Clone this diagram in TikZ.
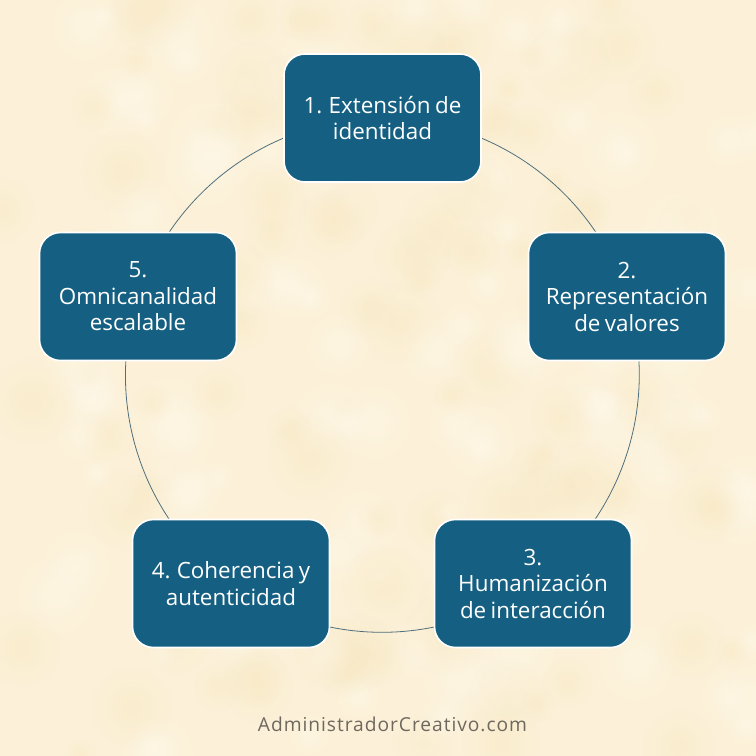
\documentclass[tikz,border=0pt]{standalone}
\usepackage{fontspec}
\setmainfont[WordSpace=0.75]{Open Sans}
\usetikzlibrary{backgrounds,fadings}
\definecolor{paper}{HTML}{FCF1D8}
\definecolor{blotlight}{HTML}{FFF9EA}
\definecolor{blotdark}{HTML}{F8E8C3}
\definecolor{boxblue}{HTML}{156082}
\definecolor{ringline}{HTML}{4F6F7C}
\definecolor{foot}{HTML}{6E685E}
\tikzfading[name=softblot,inner color=transparent!0,outer color=transparent!100]
\tikzset{
  stagebox/.style={draw=white,line width=1.6pt,fill=boxblue,rounded corners=21pt,
    minimum width=197pt,minimum height=128pt,inner sep=0pt,text=white,align=center,
    font=\fontsize{22.4}{26.5}\selectfont},
  ringarc/.style={draw=ringline,line width=0.8pt,bend left=36,looseness=0.94},
  footer/.style={text=foot,font=\fontsize{19.2}{22}\selectfont,inner sep=0pt},
}
\begin{document}
\begin{tikzpicture}[x=1pt,y=-1pt]
\useasboundingbox (0,0) rectangle (756,756);
\begin{scope}[on background layer]
\fill[paper] (0,0) rectangle (756,756);
\clip (0,0) rectangle (756,756);
\pgfmathsetseed{4217}
\foreach \i in {1,...,220}{
  \pgfmathsetmacro{\px}{rnd*756}
  \pgfmathsetmacro{\py}{rnd*756}
  \pgfmathsetmacro{\pr}{14+rnd*30}
  \pgfmathtruncatemacro{\pick}{mod(\i,2)}
  \ifnum\pick=0\def\blot{blotlight}\else\def\blot{blotdark}\fi
  \fill[\blot,opacity=.5,path fading=softblot,fit fading=true] (\px,\py) circle[radius=\pr];
}
\end{scope}
\node[stagebox] (n1) at (382.5,118) {1. Extensión de\\identidad};
\node[stagebox] (n2) at (627,296.5) {2.\\Representación\\de valores};
\node[stagebox] (n3) at (533,583.5) {3.\\Humanización\\de interacción};
\node[stagebox] (n4) at (231,583.5) {4. Coherencia y\\autenticidad};
\node[stagebox] (n5) at (138,296.5) {5.\\Omnicanalidad\\escalable};
\node[footer] (credit) at (392.5,724) {\addfontfeature{LetterSpace=5}AdministradorCreativo.com};
\begin{scope}[on background layer]
\path[ringarc] (n1.center) to (n2.center);
\path[ringarc] (n2.center) to (n3.center);
\path[ringarc] (n3.center) to (n4.center);
\path[ringarc] (n4.center) to (n5.center);
\path[ringarc] (n5.center) to (n1.center);
\end{scope}
\end{tikzpicture}
\end{document}
